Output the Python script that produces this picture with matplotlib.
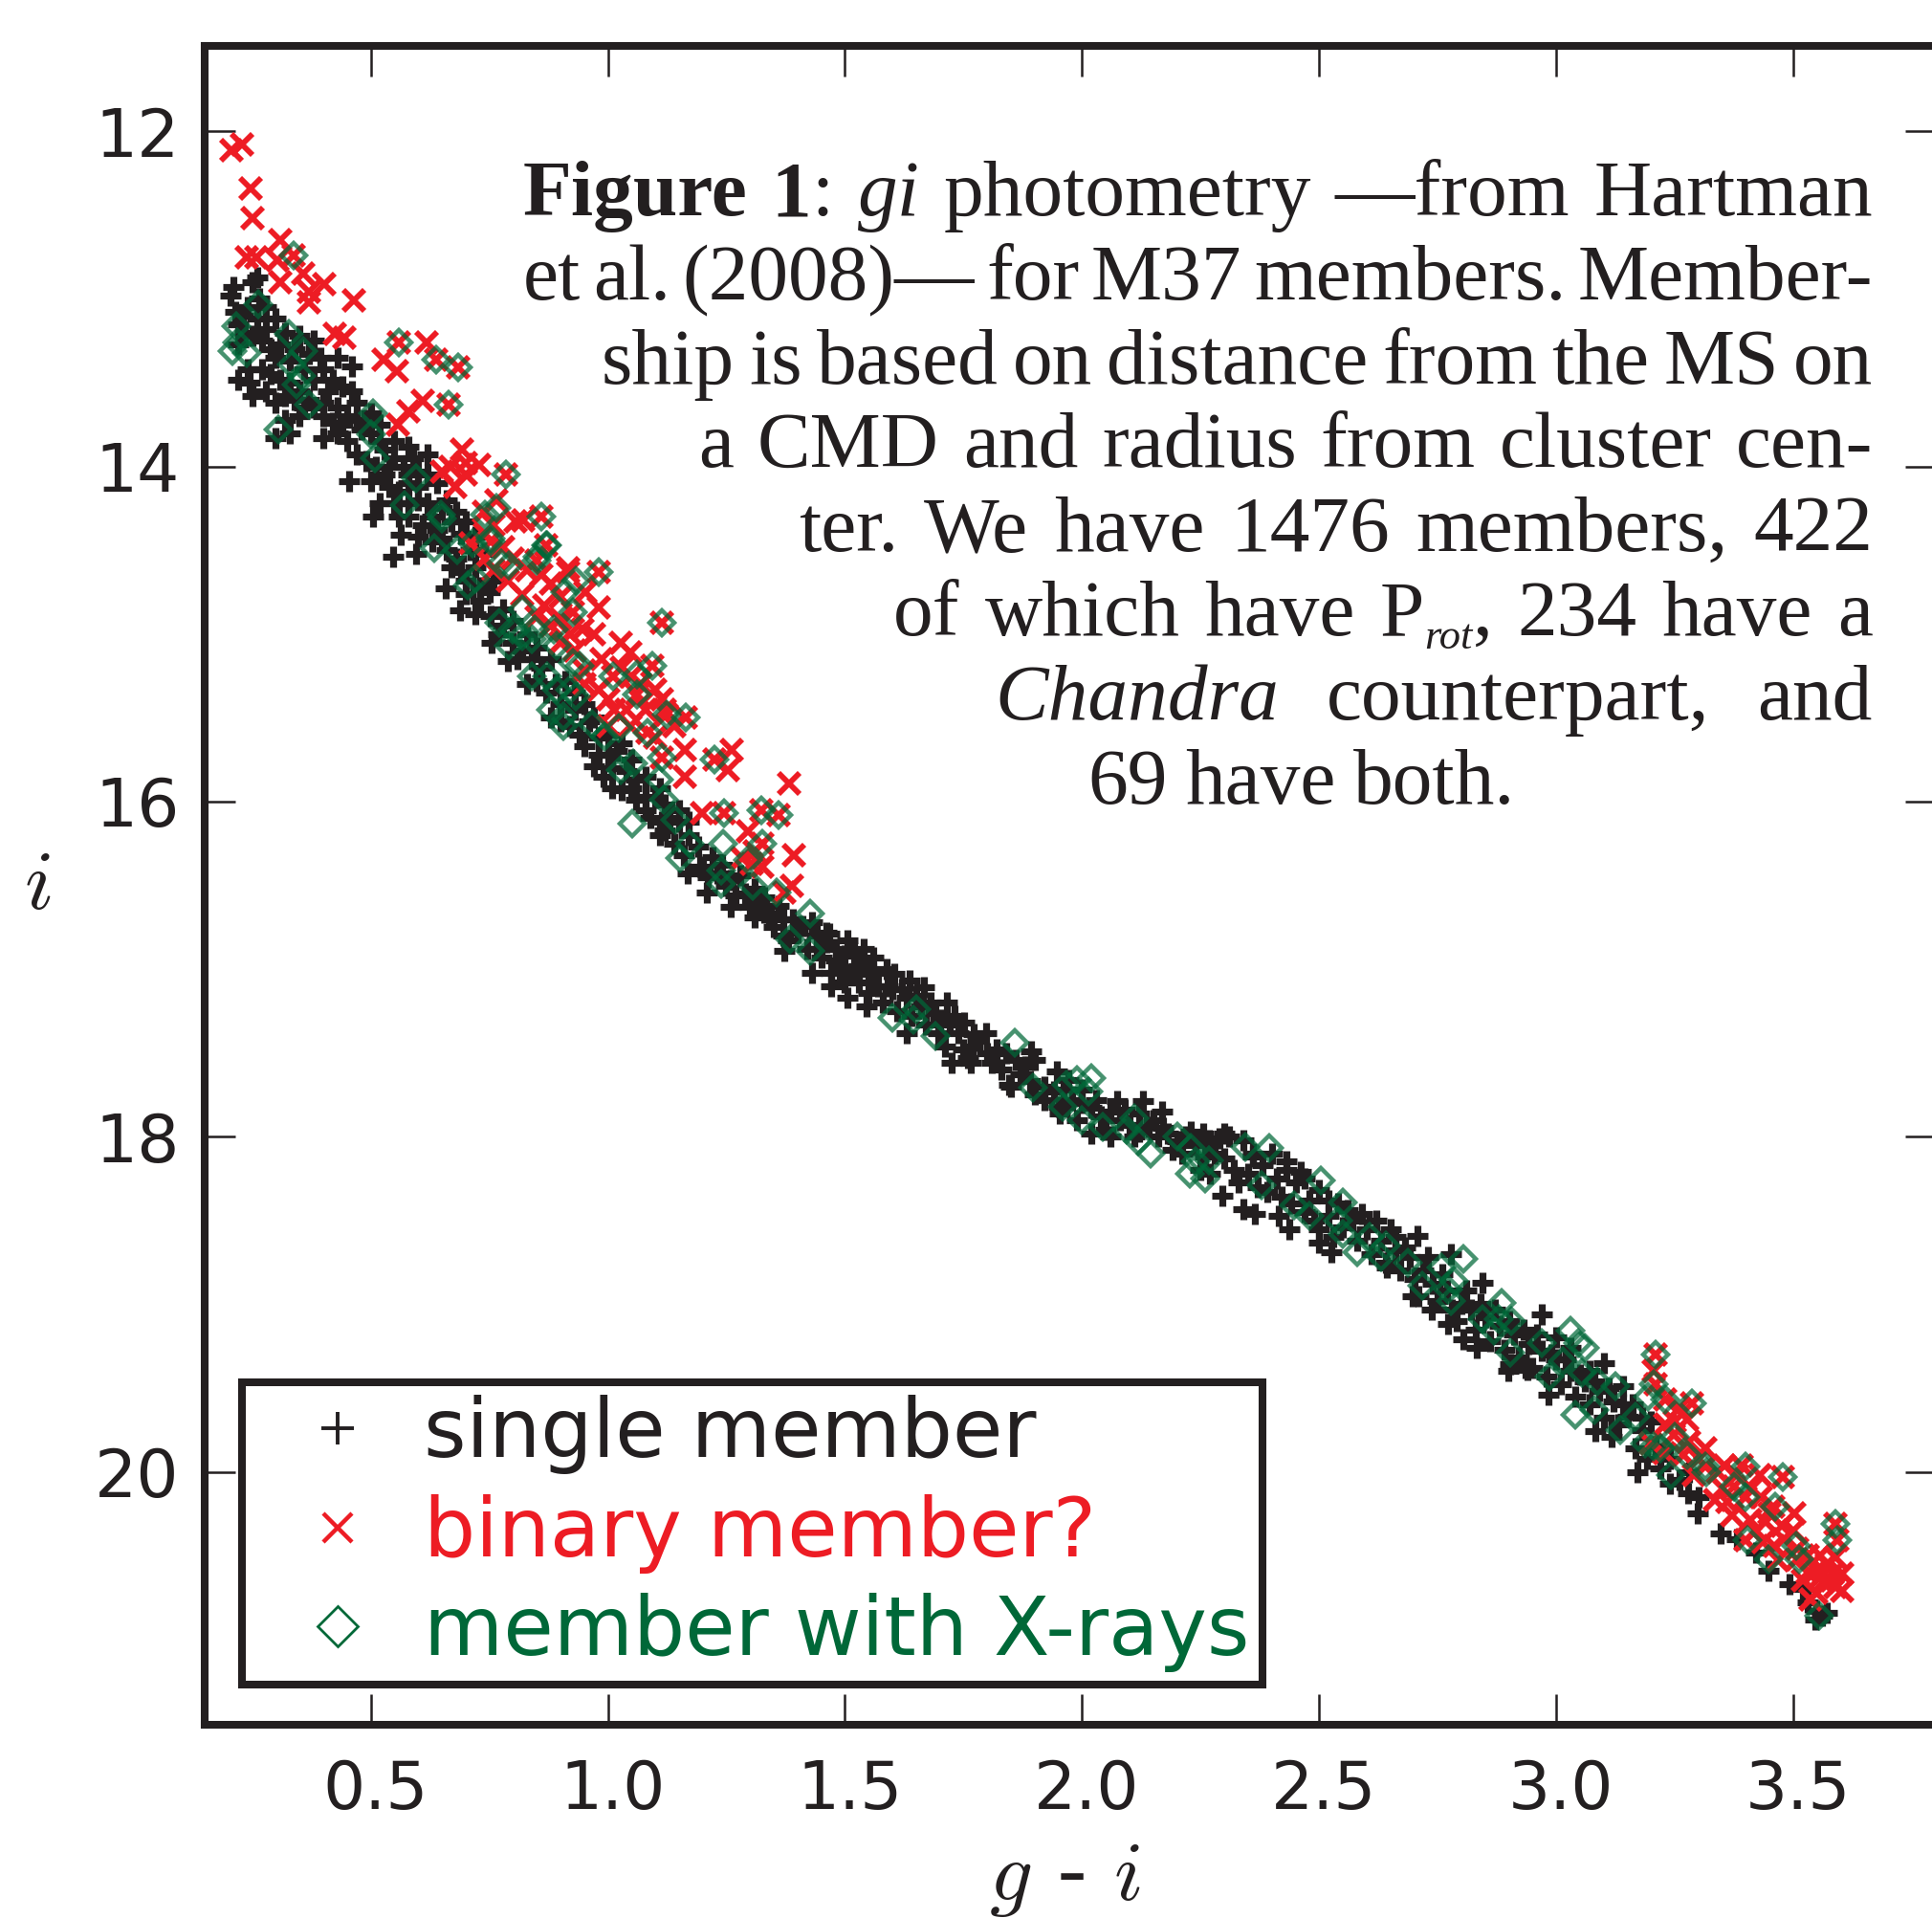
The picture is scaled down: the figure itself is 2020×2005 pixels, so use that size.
#!/usr/bin/env python3

import numpy as np
import matplotlib
matplotlib.use('Agg')
from matplotlib import pyplot as plt
from matplotlib.lines import Line2D
from matplotlib.transforms import ScaledTranslation

# color-magnitude diagram of M37, values as (g-i, i)
single = [
    (0.21,12.93),(0.205,12.98),(0.26,12.87),(0.25,12.9),(0.215,13.08),(0.22,13.15),(0.265,13.0),(0.28,13.05),
    (0.3,13.12),(0.235,13.2),(0.22,13.27),(0.25,13.22),(0.27,13.25),(0.29,13.3),(0.32,13.2),(0.3,13.35),
    (0.35,13.22),(0.38,13.25),(0.37,13.33),(0.395,13.35),(0.43,13.35),(0.46,13.4),(0.34,13.3),(0.4,13.42),
    (0.42,13.48),(0.44,13.52),(0.46,13.55),(0.24,13.42),(0.27,13.42),(0.22,13.48),(0.245,13.5),(0.29,13.45),
    (0.31,13.48),(0.33,13.5),(0.35,13.55),(0.25,13.58),(0.30,13.62),(0.34,13.6),(0.37,13.6),(0.38,13.65),
    (0.40,13.62),(0.43,13.65),(0.45,13.7),(0.47,13.72),(0.5,13.68),(0.48,13.78),(0.43,13.8),(0.42,13.74),
    (0.35,13.7),(0.32,13.72),(0.3,13.83),(0.33,13.8),(0.40,13.83),(0.45,13.85),(0.5,13.8),(0.52,13.85),
    (0.53,13.9),(0.47,13.93),(0.49,13.97),(0.51,14.0),(0.55,13.95),(0.57,14.0),(0.59,13.95),(0.62,13.93),
    (0.6,14.03),(0.64,14.1),(0.53,14.05),(0.50,14.09),(0.454,14.09),(0.54,14.12),(0.56,14.15),(0.52,14.22),
    (0.504,14.30),(0.56,14.3),(0.564,14.41),(0.548,14.54),(0.595,14.52),(0.60,14.2),(0.62,14.22),(0.65,14.25),
    (0.58,14.3),(0.61,14.35),(0.64,14.38),(0.67,14.33),(0.69,14.4),(0.63,14.45),(0.66,14.5),(0.68,14.55),
    (0.71,14.5),(0.72,14.6),(0.659,14.73),(0.689,14.86),(0.70,14.68),(0.73,14.72),(0.75,14.75),(0.752,14.89),
    (0.755,15.05),(0.78,14.85),(0.77,15.0),(0.80,15.05),(0.82,15.1),(0.79,15.16),(0.84,15.15),(0.85,15.28),
    (0.83,15.3),(0.87,15.35),(0.88,15.5),(0.90,15.42),(0.92,15.55),(0.93,15.45),(0.96,15.52),(0.95,15.67),
    (0.98,15.62),(1.00,15.72),(0.99,15.85),(0.97,15.79),(1.02,15.7),(1.04,15.82),(1.03,15.93),(1.06,15.87),
    (1.06,15.99),(1.08,15.97),(1.10,15.98),(1.12,16.02),(1.09,16.1),(1.12,16.17),(1.15,16.12),(1.14,16.25),
    (1.17,16.2),(1.16,16.32),(1.19,16.27),(1.194,16.39),(1.22,16.33),(1.21,16.45),(1.24,16.38),(1.25,16.5),
    (1.28,16.44),(1.27,16.56),(1.31,16.52),(1.30,16.63),(1.33,16.57),(1.329,16.66),(1.36,16.62),(1.35,16.75),
    (1.39,16.7),(1.38,16.83),(1.41,16.74),(1.42,16.88),(1.44,16.8),(1.45,16.93),(1.46,16.84),(1.48,16.95),
    (1.47,17.02),(1.50,16.92),(1.51,17.03),(1.50,17.08),(1.53,16.98),(1.53,17.08),(1.55,17.03),(1.55,17.14),
    (1.57,17.1),(1.58,17.2),(1.60,17.12),(1.61,17.25),(1.63,17.17),(1.64,17.28),(1.66,17.22),(1.67,17.33),
    (1.69,17.26),(1.697,17.38),(1.72,17.33),(1.71,17.46),(1.74,17.38),(1.75,17.48),(1.78,17.43),(1.76,17.53),
    (1.80,17.5),(1.82,17.48),(1.84,17.5),(1.86,17.54),(1.83,17.6),(1.87,17.63),(1.85,17.7),(1.89,17.67),
    (1.90,17.75),(1.92,17.7),(1.94,17.73),(1.96,17.72),(1.95,17.82),(1.98,17.78),(2.00,17.8),(1.99,17.9),
    (2.02,17.83),(2.04,17.88),(2.06,17.85),(2.05,17.96),(2.08,17.9),(2.10,17.93),(2.12,17.86),(2.12,17.97),
    (2.14,17.94),(2.16,18.0),(2.15,17.9),(2.18,17.98),(2.20,18.03),(2.22,18.0),(2.21,18.1),(2.24,18.05),
    (2.26,18.12),(2.268,18.02),(2.29,18.01),(2.31,18.0),(2.34,18.02),(2.30,18.13),(2.32,18.2),(2.36,18.12),
    (2.35,18.22),(2.38,18.17),(2.40,18.1),(2.41,18.25),(2.39,18.33),(2.43,18.2),(2.45,18.27),(2.44,18.4),
    (2.47,18.25),(2.48,18.38),(2.50,18.32),(2.52,18.47),(2.50,18.55),(2.54,18.4),(2.55,18.54),(2.53,18.6),
    (2.57,18.5),(2.58,18.62),(2.60,18.55),(2.61,18.7),(2.63,18.62),(2.64,18.75),(2.66,18.68),(2.67,18.8),
    (2.69,18.72),(2.70,18.85),(2.72,18.8),(2.71,18.95),(2.74,18.88),(2.75,18.98),(2.77,18.92),(2.78,19.03),
    (2.80,19.0),(2.79,19.1),(2.82,19.03),(2.83,19.15),(2.85,19.08),(2.86,19.22),(2.88,19.13),(2.89,19.27),
    (2.91,19.18),(2.92,19.32),(2.94,19.24),(2.95,19.38),(2.97,19.28),(2.98,19.43),(3.00,19.33),(3.01,19.48),
    (3.03,19.4),(3.04,19.55),(3.06,19.46),(3.07,19.6),(3.09,19.52),(3.10,19.68),(3.12,19.58),(3.13,19.72),
    (3.15,19.67),(3.166,19.86),(3.18,19.75),(3.19,19.92),(3.21,19.85),(3.22,19.98),(3.24,19.92),(3.26,20.05),
    (3.28,20.0),(3.297,20.25),(3.30,20.15),(3.347,20.37),(3.38,20.4),(3.42,20.48),(3.448,20.59),(3.492,20.67),
    (3.52,20.7),(3.53,20.78),(3.548,20.83),(3.56,20.86),(3.57,20.84),(3.545,20.88),
    # second pass: band edges and the crowded middle
    (0.23,13.1),(0.24,13.05),(0.26,13.12),(0.28,13.18),(0.31,13.27),(0.33,13.37),(0.36,13.42),(0.38,13.48),
    (0.28,13.55),(0.32,13.58),(0.36,13.65),(0.4,13.7),(0.44,13.75),(0.41,13.55),(0.47,13.62),(0.49,13.72),
    (0.52,13.75),(0.55,13.85),(0.58,13.88),(0.54,14.0),(0.58,14.05),(0.58,14.1),(0.6,14.12),(0.62,14.05),
    (0.55,14.22),(0.58,14.22),(0.63,14.3),(0.66,14.2),(0.68,14.27),(0.6,14.42),(0.65,14.43),(0.7,14.33),
    (0.67,14.6),(0.69,14.63),(0.72,14.42),(0.74,14.52),(0.7,14.76),(0.73,14.8),(0.76,14.68),(0.72,14.88),
    (0.78,14.95),(0.8,14.92),(0.83,15.0),(0.81,15.15),(0.85,15.08),(0.86,15.2),(0.88,15.15),(0.89,15.3),
    (0.91,15.28),(0.9,15.52),(0.93,15.35),(0.95,15.42),(0.97,15.5),(0.94,15.6),(0.98,15.72),(1.0,15.6),
    (1.01,15.8),(1.03,15.65),(1.05,15.75),(1.01,15.92),(1.05,15.92),(1.08,15.85),(1.08,16.05),(1.11,15.92),
    (1.13,16.1),(1.15,16.05),(1.11,16.2),(1.17,16.12),(1.114,16.12),(1.168,16.43),(1.208,16.54),(1.259,16.63),
    (1.309,16.69),(1.2,16.4),(1.23,16.43),(1.26,16.47),(1.29,16.55),(1.32,16.6),(1.34,16.67),(1.37,16.7),
    (1.37,16.8),(1.4,16.78),(1.43,16.72),(1.44,16.88),(1.46,16.78),(1.48,16.88),(1.49,17.0),(1.52,16.9),
    (1.52,17.03),(1.54,16.96),(1.56,17.02),(1.466,16.79),(1.506,16.83),(1.54,16.88),(1.56,16.93),(1.587,17.0),
    (1.604,17.03),(1.637,17.07),(1.667,17.11),(1.715,17.2),(1.751,17.32),(1.772,17.39),(1.798,17.38),(1.892,17.49),
    (1.9,17.54),(1.947,17.61),(2.073,17.79),(1.373,16.89),(1.43,17.02),(1.47,17.1),(1.506,17.17),(1.546,17.22),
    (1.631,17.38),(1.725,17.56),(1.766,17.56),(1.846,17.69),(1.953,17.86),(2.019,17.98),(2.06,18.0),(1.59,17.1),
    (1.62,17.12),(1.65,17.16),(1.68,17.2),(1.7,17.3),(1.73,17.28),(1.77,17.46),(1.81,17.56),(1.88,17.58),
    (1.92,17.78),(1.97,17.66),(2.0,17.72),(2.03,17.78),(2.09,17.84),(2.128,17.79),(2.168,17.85),(2.11,18.0),
    (2.255,17.98),(2.3,17.98),(2.36,18.1),(2.43,18.15),(2.46,18.21),(2.59,18.46),(2.65,18.55),(2.707,18.59),
    (2.778,18.7),(2.844,18.87),(2.969,19.06),(2.295,18.35),(2.339,18.43),(2.365,18.46),(2.415,18.47),(2.436,18.55),
    (2.5,18.63),(2.526,18.69),(2.643,18.78),(2.697,18.95),(2.737,19.03),(2.772,19.12),(2.804,19.21),(2.832,19.26),
    (2.899,19.4),(2.939,19.39),(2.902,19.36),(2.935,19.38),(2.983,19.54),(3.083,19.76),(3.116,19.79),(3.17,20.0),
    (3.24,20.07),(3.277,20.13),(3.1,19.35),(3.14,19.49),(3.0,19.2),(3.03,19.26),(3.07,19.4),(2.27,18.22),
    (2.33,18.27),(2.37,18.3),(2.42,18.36),(2.47,18.45),(2.49,18.5),(2.52,18.38),(2.56,18.44),(2.62,18.5),
    (2.66,18.6),(2.68,18.66),(2.73,18.72),(2.76,18.82),(2.81,18.92),(2.84,19.0),(2.87,19.03),(2.9,19.1),
    (2.93,19.15),(2.96,19.18),(2.99,19.3),(3.02,19.33),(3.05,19.42),(3.08,19.46),(3.11,19.5),(3.14,19.6),
    (3.16,19.6),(3.18,19.68),(3.2,19.7),(2.28,18.1),(2.25,18.2),(2.19,18.08),(2.17,17.95),(2.23,17.97),
]
binary = [
    (0.206,12.11),(0.228,12.08),(0.246,12.34),(0.25,12.52),(0.309,12.65),(0.239,12.75),(0.259,12.75),(0.337,12.74),
    (0.303,12.77),(0.357,12.85),(0.309,12.90),(0.403,12.91),(0.369,12.96),(0.369,13.02),(0.464,13.01),(0.424,13.21),
    (0.444,13.23),(0.56,13.26),(0.528,13.36),(0.617,13.26),(0.639,13.36),(0.685,13.41),(0.556,13.43),(0.609,13.61),
    (0.58,13.67),(0.558,13.75),(0.665,13.63),(0.693,13.90),(0.669,14.0),(0.651,14.03),(0.729,13.99),(0.679,14.12),
    (0.786,14.05),(0.766,14.2),(0.739,14.27),(0.86,14.3),(0.822,14.32),(0.87,14.47),(0.711,14.46),(0.752,14.45),
    (0.85,14.56),(0.917,14.63),(0.98,14.63),(0.98,14.84),(0.917,14.61),(0.953,14.75),(0.927,14.87),(0.947,14.97),
    (0.86,14.65),(0.82,14.77),(0.866,14.83),(0.90,14.91),(0.806,14.33),(1.114,14.93),(1.027,15.05),(0.987,15.15),
    (1.047,15.11),(1.094,15.19),(1.011,15.25),(1.061,15.36),(1.10,15.33),(1.114,15.39),(1.001,15.39),(0.981,15.33),
    (1.013,15.45),(1.124,15.48),(1.164,15.50),(1.047,15.55),(1.083,15.59),(1.162,15.69),(1.114,15.74),(1.224,15.75),
    (1.262,15.69),(1.254,15.81),(1.162,15.85),(1.383,15.89),(1.198,16.07),(1.244,16.07),(1.323,16.05),(1.359,16.08),
    (1.295,16.18),(1.325,16.25),(1.309,16.30),(1.283,16.34),(1.303,16.37),(1.393,16.32),(1.389,16.50),(1.373,16.54),
    (1.325,16.39),(0.74,14.55),(0.76,14.62),(0.79,14.68),(0.90,15.05),(0.93,15.1),
    (1.03,15.2),(1.05,15.25),(1.07,15.3),(1.12,15.45),(1.08,15.45),(0.95,15.3),(0.76,14.35),(0.74,14.4),
    (0.78,14.48),(0.80,14.55),(0.83,14.62),(0.88,14.7),(0.90,14.78),(0.85,14.9),(0.88,14.95),(0.92,15.0),
    (0.97,15.0),(0.95,15.22),(1.0,15.55),(1.04,15.45),(1.14,15.55),(1.1,15.62),(0.7,14.05),(0.7,13.98),
    (3.21,19.30),(3.206,19.40),(3.21,19.48),(3.23,19.57),(3.285,19.59),(3.275,19.69),(3.247,19.78),(3.20,19.83),
    (3.227,19.89),(3.267,19.90),(3.315,19.86),(3.315,19.97),(3.289,20.02),(3.355,19.96),(3.39,19.96),(3.428,20.02),
    (3.478,20.03),(3.375,20.09),(3.398,20.15),(3.335,20.17),(3.458,20.21),(3.502,20.25),(3.408,20.29),(3.442,20.30),
    (3.371,20.26),(3.475,20.32),(3.398,20.41),(3.436,20.42),(3.508,20.46),(3.589,20.31),(3.593,20.41),(3.468,20.53),
    (3.508,20.52),(3.556,20.50),(3.589,20.51),(3.548,20.59),(3.583,20.61),(3.603,20.61),(3.562,20.66),(3.589,20.69),
    (3.603,20.71),(3.548,20.72),(3.535,20.76),
    (3.3,19.92),(3.34,20.0),(3.38,20.02),(3.35,20.1),(3.41,20.1),(3.43,20.15),(3.45,20.25),(3.42,20.35),
    (3.48,20.4),(3.5,20.35),(3.53,20.5),(3.53,20.6),(3.57,20.55),(3.58,20.65),(3.25,19.7),(3.23,19.72),
    (3.28,19.82),(3.52,20.65),(3.56,20.62),(3.26,19.62),(3.36,20.18),(3.46,20.44),
]
xray = [
    (0.337,12.74),(0.262,13.03),(0.216,13.16),(0.218,13.26),(0.208,13.31),(0.238,13.32),(0.327,13.21),(0.357,13.31),
    (0.333,13.39),(0.353,13.46),(0.343,13.51),(0.369,13.63),(0.305,13.78),(0.504,13.68),(0.50,13.81),(0.508,13.95),
    (0.56,13.26),(0.639,13.36),(0.685,13.41),(0.665,13.63),(0.595,14.07),(0.572,14.23),(0.649,14.29),(0.651,14.31),
    (0.633,14.49),(0.683,14.50),(0.715,14.46),(0.786,14.05),(0.766,14.25),(0.741,14.29),(0.86,14.3),(0.752,14.45),
    (0.87,14.47),(0.85,14.56),(0.98,14.63),(0.752,14.43),(0.776,14.58),(0.792,14.59),(0.705,14.71),(0.721,14.67),
    (0.852,14.54),(0.872,14.47),(0.91,14.75),(0.933,14.68),(0.927,14.87),(0.772,14.93),(0.80,14.97),(0.82,15.01),
    (0.84,15.03),(0.792,15.07),(0.846,14.97),(0.82,14.85),(0.886,14.97),(0.892,15.07),(0.927,15.17),(0.94,15.19),
    (0.84,15.25),(0.872,15.25),(0.892,15.33),(0.92,15.33),(0.88,15.45),(0.906,15.49),(0.906,15.55),(0.933,15.37),
    (0.967,15.54),(0.993,15.61),(1.023,15.56),(1.011,15.25),(1.061,15.36),(1.094,15.19),(1.061,15.24),(1.114,14.93),
    (1.124,15.48),(1.164,15.50),(1.083,15.59),(1.114,15.74),(1.224,15.75),(1.027,15.81),(1.053,15.77),(1.108,15.87),
    (1.118,15.99),(1.142,16.11),(1.051,16.13),(1.172,16.25),(1.152,16.34),(1.242,16.25),(1.238,16.41),(1.238,16.49),
    (1.305,16.50),(1.295,16.35),(1.325,16.25),(1.244,16.07),(1.323,16.05),(1.359,16.08),(1.355,16.54),(1.426,16.67),
    (1.385,16.82),(1.426,16.89),(1.60,17.29),(1.651,17.24),(1.645,17.30),(1.691,17.40),(1.858,17.44),(1.896,17.71),
    (1.967,17.69),(1.989,17.66),(2.019,17.65),(2.013,17.73),(1.959,17.82),(1.999,17.90),(2.043,17.94),(2.11,17.89),
    (2.094,17.96),(2.118,18.03),(2.144,18.10),(2.20,18.0),(2.23,18.07),(2.268,18.14),(2.24,18.15),(2.228,18.22),
    (2.259,18.25),(2.345,18.06),(2.395,18.07),(2.379,18.29),(2.446,18.41),(2.48,18.47),(2.504,18.26),(2.55,18.39),
    (2.54,18.50),(2.55,18.58),(2.58,18.69),(2.607,18.60),(2.64,18.65),(2.63,18.72),(2.687,18.75),(2.717,18.89),
    (2.758,18.78),(2.804,18.73),(2.784,18.86),(2.772,18.91),(2.778,18.98),(2.884,18.99),(2.844,19.09),(2.878,19.09),
    (2.904,19.10),(2.868,19.16),(2.902,19.29),(2.969,19.23),(3.029,19.16),(3.045,19.23),(3.013,19.34),(2.985,19.43),
    (3.053,19.41),(3.06,19.26),(3.086,19.46),(3.124,19.49),(3.04,19.66),(3.08,19.63),(3.134,19.75),(3.166,19.67),
    (3.194,19.55),(3.21,19.30),(3.206,19.48),(3.23,19.57),(3.285,19.59),(3.186,19.83),(3.206,19.85),(3.25,19.79),
    (3.22,19.86),(3.275,19.90),(3.315,19.97),(3.317,20.0),(3.241,20.02),(3.398,19.97),(3.375,20.09),(3.398,20.15),
    (3.478,20.03),(3.462,20.21),(3.402,20.41),(3.448,20.52),(3.506,20.44),(3.512,20.52),(3.589,20.31),(3.593,20.41),
    (3.554,20.86),
]
x_ticks = [0.5, 1.0, 1.5, 2.0, 2.5, 3.0, 3.5]
y_ticks = [12, 14, 16, 18, 20]
labels = ['single member', 'binary member?', 'member with X-rays']

# r = roman, b = bold, i = italic, s = small italic subscript
caption = [
    (547, 1958, 225, [[('Figure', 'b')], [('1', 'b'), (':', 'r')], [('gi', 'i')], [('photometry', 'r')], [('\u2014from', 'r')], [('Hartman', 'r')]]),
    (547, 1958, 313, [[('et', 'r')], [('al.', 'r')], [('(2008)\u2014', 'r')], [('for', 'r')], [('M37', 'r')], [('members.', 'r')], [('Member-', 'r')]]),
    (629, 1958, 401, [[(w, 'r')] for w in 'ship is based on distance from the MS on'.split()]),
    (730, 1958, 488, [[(w, 'r')] for w in 'a CMD and radius from cluster cen-'.split()]),
    (835, 1958, 576, [[(w, 'r')] for w in 'ter. We have 1476 members, 422'.split()]),
    (934, 1958, 664, [[('of', 'r')], [('which', 'r')], [('have', 'r')], [('P', 'r'), ('rot', 's'), (',', 'r')], [('234', 'r')], [('have', 'r')], [('a', 'r')]]),
    (1040, 1958, 752, [[('Chandra', 'i')], [('counterpart,', 'r')], [('and', 'r')]]),
    (1137, 1584, 840, [[(w, 'r')] for w in '69 have both.'.split()]),
]

ink = '#231f20'
red = '#ed1c24'
green = '#006838'
W, H = 2020, 2005

plt.rcParams['mathtext.fontset'] = 'cm'
fig = plt.figure(figsize=(W / 100, H / 100), dpi=100)
ax = fig.add_axes([214 / W, 1 - 1803 / H, (2024 - 214) / W, (1803 - 48) / H])

sx, sy = np.array(single).T
bx, by = np.array(binary).T
cx, cy = np.array(xray).T
ax.plot(sx, sy, ls='', marker='+', ms=16.5, mew=5.2, color=ink)
ax.plot(bx, by, ls='', marker='x', ms=15.5, mew=4.2, color=red)
ax.plot(cx, cy, ls='', marker='D', ms=13.5, mew=3.2, mfc='none', mec=green, alpha=0.72)

ax.set_xlim(0.15, 3.80)
ax.set_ylim(21.51, 11.49)
ax.set_xticks(x_ticks)
ax.set_yticks(y_ticks)
ax.tick_params(axis='x', direction='in', top=True, length=23, width=1.8, pad=25,
               labelsize=50, color=ink, labelcolor=ink)
ax.tick_params(axis='y', direction='in', right=True, length=23, width=1.8, pad=19,
               labelsize=50, color=ink, labelcolor=ink)
# the x tick labels sit a few pixels right of their ticks
for lab in ax.get_xticklabels():
    lab.set_transform(lab.get_transform() + ScaledTranslation(0.05, 0, fig.dpi_scale_trans))
for s in ax.spines.values():
    s.set_linewidth(5.8)
    s.set_color(ink)
ax.set_xlabel('$g$ - $i$', fontsize=64, color=ink, labelpad=10, x=0.497)
ax.set_ylabel('$i$', fontsize=64, color=ink, rotation=0, labelpad=43, va='center')

handles = [
    Line2D([], [], ls='', marker='+', ms=24, mew=2.8, color=ink),
    Line2D([], [], ls='', marker='x', ms=22, mew=3.2, color=red),
    Line2D([], [], ls='', marker='D', ms=21, mew=2, mfc='none', mec=green),
]
leg = ax.legend(handles, labels, loc='lower left', bbox_to_anchor=(253 / W, 1 - 1761 / H),
                bbox_transform=fig.transFigure, fontsize=61.5, numpoints=1, fancybox=False,
                borderaxespad=0, borderpad=0.15, labelspacing=0.24, handletextpad=0.03,
                handlelength=2.05, framealpha=1, edgecolor=ink)
leg.get_frame().set_linewidth(5.8)
for t, c in zip(leg.get_texts(), [ink, red, green]):
    t.set_color(c)

styles = {
    'r': dict(fontsize=60),
    'b': dict(fontsize=60, fontweight='bold'),
    'i': dict(fontsize=60, fontstyle='italic'),
    's': dict(fontsize=32, fontstyle='italic'),
}
fig.canvas.draw()
rend = fig.canvas.get_renderer()

# justify every caption line between its two edges
for x0, x1, base, words in caption:
    placed = []
    total = 0
    for word in words:
        runs = []
        for text, st in word:
            t = fig.text(0, 0, text, family='Liberation Serif', color=ink, va='baseline', **styles[st])
            w = t.get_window_extent(rend).width
            runs.append((t, w, st))
            total += w
        placed.append(runs)
    gap = (x1 - x0 - total) / (len(words) - 1)
    x = x0
    for runs in placed:
        for t, w, st in runs:
            dy = 14 if st == 's' else 0
            t.set_position((x / W, 1 - (base + dy) / H))
            x += w
        x += gap

fig.savefig('out.png', dpi=100)
